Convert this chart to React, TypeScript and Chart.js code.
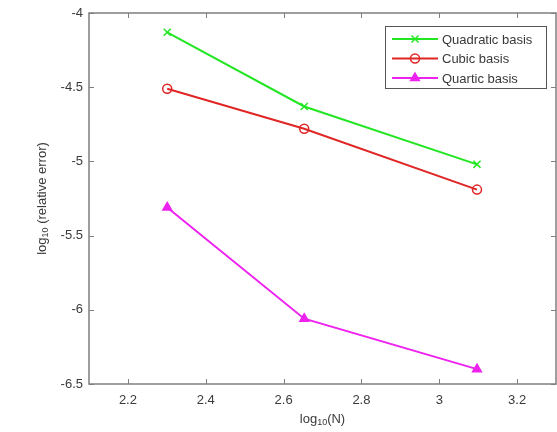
import React, { useEffect, useRef } from "react";
import { Chart, registerables } from "chart.js";
import { drawPoint } from "chart.js/helpers";

Chart.register(...registerables);

const xValues = [2.301, 2.653, 3.097];
const quadraticValues = [-4.13, -4.63, -5.02];
const cubicValues = [-4.51, -4.78, -5.19];
const quarticValues = [-5.31, -6.06, -6.4];

const seriesNames = ["Quadratic basis", "Cubic basis", "Quartic basis"];

const xTickValues = [2.2, 2.4, 2.6, 2.8, 3.0, 3.2];
const xTickLabels = ["2.2", "2.4", "2.6", "2.8", "3", "3.2"];
const yTickValues = [-6.5, -6, -5.5, -5, -4.5, -4];
const yTickLabels = ["-6.5", "-6", "-5.5", "-5", "-4.5", "-4"];

const xTitleParts = [
  { t: "log", sub: false },
  { t: "10", sub: true },
  { t: "(N)", sub: false },
];
const yTitleParts = [
  { t: "log", sub: false },
  { t: "10", sub: true },
  { t: " (relative error)", sub: false },
];

const FONT = '"Liberation Sans", Arial, Helvetica, sans-serif';
const TEXT_COLOR = "#3a3a3a";
const AXIS_COLOR = "#7f7f7f";

function drawMixed(ctx: CanvasRenderingContext2D, parts: { t: string; sub: boolean }[], cx: number, cy: number, angle: number) {
  ctx.save();
  ctx.translate(cx, cy);
  ctx.rotate(angle);
  ctx.fillStyle = TEXT_COLOR;
  ctx.textBaseline = "middle";
  ctx.textAlign = "left";
  const widths = parts.map((p) => {
    ctx.font = (p.sub ? "9px " : "13px ") + FONT;
    return ctx.measureText(p.t).width;
  });
  const total = widths.reduce((a, b) => a + b, 0);
  let x = -total / 2;
  parts.forEach((p, i) => {
    ctx.font = (p.sub ? "9px " : "13px ") + FONT;
    ctx.fillText(p.t, x, p.sub ? 4 : 0);
    x += widths[i];
  });
  ctx.restore();
}

const axesPlugin = {
  id: "matlabAxes",
  beforeDatasetsDraw(chart: any) {
    const { ctx, chartArea } = chart;
    const { left, right, top, bottom } = chartArea;
    const xs = chart.scales.x;
    const ys = chart.scales.y;
    ctx.save();
    ctx.strokeStyle = AXIS_COLOR;
    ctx.lineWidth = 1.5;
    ctx.strokeRect(left, top, right - left, bottom - top);
    ctx.lineWidth = 1;
    const tl = 5;
    ctx.beginPath();
    xTickValues.forEach((v) => {
      const px = Math.round(xs.getPixelForValue(v)) + 0.5;
      ctx.moveTo(px, bottom);
      ctx.lineTo(px, bottom - tl);
      ctx.moveTo(px, top);
      ctx.lineTo(px, top + tl);
    });
    yTickValues.forEach((v) => {
      const py = Math.round(ys.getPixelForValue(v)) + 0.5;
      ctx.moveTo(left, py);
      ctx.lineTo(left + tl, py);
      ctx.moveTo(right, py);
      ctx.lineTo(right - tl, py);
    });
    ctx.stroke();
    ctx.restore();
  },
  afterDraw(chart: any) {
    const { ctx, chartArea } = chart;
    drawMixed(ctx, xTitleParts, (chartArea.left + chartArea.right) / 2, chartArea.bottom + 35, 0);
    drawMixed(ctx, yTitleParts, chartArea.left - 47, (chartArea.top + chartArea.bottom) / 2, -Math.PI / 2);

    // legend
    const bw = 161;
    const bh = 62;
    const bx = chartArea.right - bw - 10;
    const by = chartArea.top + 13;
    ctx.save();
    ctx.fillStyle = "#ffffff";
    ctx.fillRect(bx, by, bw, bh);
    ctx.strokeStyle = "#555555";
    ctx.lineWidth = 1;
    ctx.strokeRect(bx + 0.5, by + 0.5, bw, bh);
    chart.data.datasets.forEach((ds: any, i: number) => {
      const cy = by + 13 + i * 19.5;
      ctx.strokeStyle = ds.borderColor;
      ctx.lineWidth = ds.borderWidth;
      ctx.beginPath();
      ctx.moveTo(bx + 7, cy);
      ctx.lineTo(bx + 53, cy);
      ctx.stroke();
      ctx.fillStyle = ds.pointBackgroundColor;
      ctx.lineWidth = ds.pointBorderWidth;
      drawPoint(ctx, { pointStyle: ds.pointStyle, radius: ds.pointRadius, rotation: 0, borderWidth: ds.pointBorderWidth }, bx + 30, cy);
      ctx.fillStyle = TEXT_COLOR;
      ctx.font = "13px " + FONT;
      ctx.textBaseline = "middle";
      ctx.textAlign = "left";
      ctx.fillText(ds.label, bx + 57, cy + 1);
    });
    ctx.restore();
  },
};

export default function App() {
  const canvasRef = useRef<HTMLCanvasElement | null>(null);

  useEffect(() => {
    if (!canvasRef.current) return;
    const mk = (vals: number[]) => xValues.map((x, i) => ({ x, y: vals[i] }));
    const chart = new Chart(canvasRef.current, {
      type: "line",
      data: {
        datasets: [
          {
            label: seriesNames[0],
            data: mk(quadraticValues),
            borderColor: "#22e622",
            pointBorderColor: "#22e622",
            pointBackgroundColor: "rgba(0,0,0,0)",
            borderWidth: 2,
            pointStyle: "crossRot",
            pointRadius: 5,
            pointBorderWidth: 1.5,
          },
          {
            label: seriesNames[1],
            data: mk(cubicValues),
            borderColor: "#e02525",
            pointBorderColor: "#e02525",
            pointBackgroundColor: "rgba(0,0,0,0)",
            borderWidth: 2,
            pointStyle: "circle",
            pointRadius: 4.5,
            pointBorderWidth: 1.5,
          },
          {
            label: seriesNames[2],
            data: mk(quarticValues),
            borderColor: "#ee22ee",
            pointBorderColor: "#ee22ee",
            pointBackgroundColor: "#ee22ee",
            borderWidth: 2,
            pointStyle: "triangle",
            pointRadius: 5,
            pointBorderWidth: 1.5,
          },
        ],
      },
      options: {
        responsive: false,
        animation: false,
        layout: { autoPadding: false, padding: { top: 13, right: 1, left: 0, bottom: 0 } },
        plugins: {
          legend: { display: false },
          tooltip: { enabled: false },
        },
        scales: {
          x: {
            type: "linear",
            min: 2.1,
            max: 3.3,
            grid: { display: false, drawTicks: false },
            border: { display: false },
            afterBuildTicks: (scale: any) => {
              scale.ticks = xTickValues.map((v) => ({ value: v }));
            },
            afterFit: (scale: any) => {
              scale.height = 48;
              scale.paddingLeft = 0;
              scale.paddingRight = 0;
            },
            ticks: {
              autoSkip: false,
              maxRotation: 0,
              padding: 9,
              color: TEXT_COLOR,
              font: { family: FONT, size: 13 },
              callback: (_v: any, i: number) => xTickLabels[i],
            },
          },
          y: {
            type: "linear",
            min: -6.5,
            max: -4,
            grid: { display: false, drawTicks: false },
            border: { display: false },
            afterBuildTicks: (scale: any) => {
              scale.ticks = yTickValues.map((v) => ({ value: v }));
            },
            afterFit: (scale: any) => {
              scale.width = 89;
              scale.paddingTop = 0;
              scale.paddingBottom = 0;
            },
            ticks: {
              autoSkip: false,
              padding: 6,
              color: TEXT_COLOR,
              font: { family: FONT, size: 13 },
              callback: (_v: any, i: number) => yTickLabels[i],
            },
          },
        },
      },
      plugins: [axesPlugin],
    } as any);
    return () => chart.destroy();
  }, []);

  return (
    <div style={{ position: "absolute", left: 0, top: 0, width: 557, height: 432, background: "#ffffff" }}>
      <canvas ref={canvasRef} width={557} height={432} style={{ width: 557, height: 432, display: "block" }} />
    </div>
  );
}
